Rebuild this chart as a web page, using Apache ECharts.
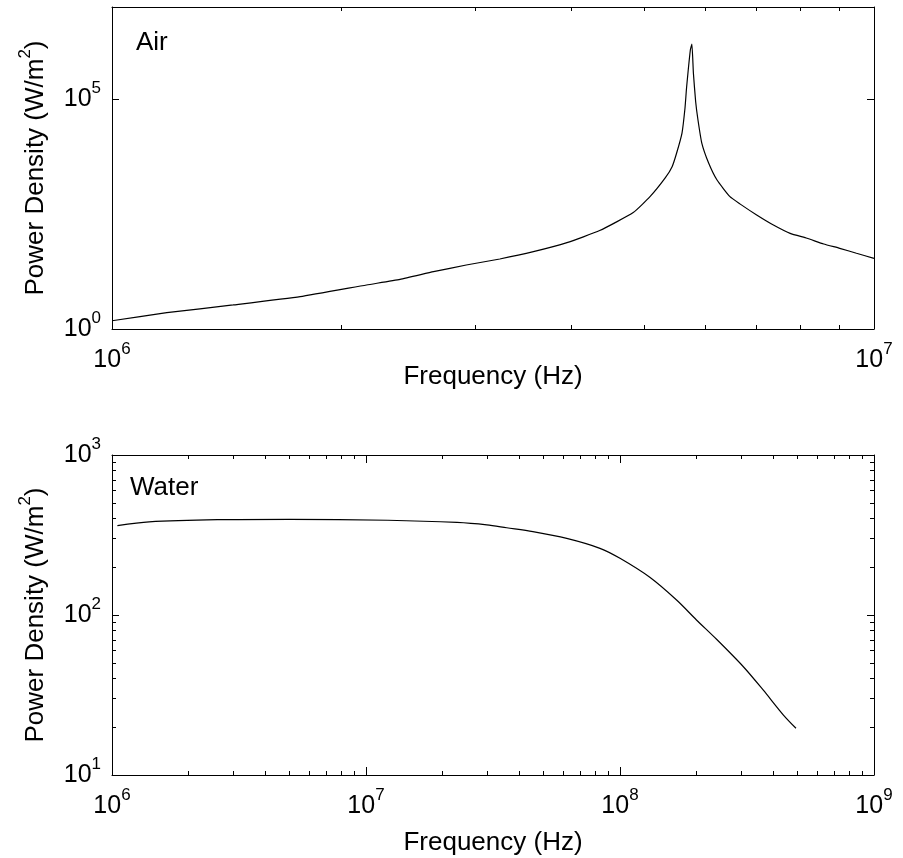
<!DOCTYPE html>
<html>
<head>
<meta charset="utf-8">
<script src="https://cdn.jsdelivr.net/npm/echarts@6/dist/echarts.min.js"></script>
<style>
  html, body { margin: 0; padding: 0; background: #ffffff; }
  #chart { width: 903px; height: 858px; }
</style>
</head>
<body>
<div id="chart"></div>
<script>
// Power density spectrum in air (sharp resonance near 5.8 MHz)
const airFreq = [
  1.000e6, 1.180e6, 1.442e6, 1.766e6, 2.158e6, 2.388e6, 2.642e6, 2.917e6, 3.228e6, 3.573e6,
  3.954e6, 4.365e6, 4.831e6, 5.082e6, 5.321e6, 5.433e6, 5.508e6, 5.598e6, 5.649e6, 5.675e6,
  5.741e6, 5.768e6, 5.794e6, 5.834e6, 5.875e6, 5.943e6, 6.067e6, 6.223e6, 6.471e6, 6.668e6,
  7.015e6, 7.379e6, 7.762e6, 8.166e6, 8.590e6, 9.016e6, 9.484e6, 1.000e7
];
const airPower = [
  1.51, 2.26, 3.33, 5.04, 9.06, 12.0, 17.6, 24.6, 33.3, 47.9,
  75.2, 138, 339, 752, 1920, 3370, 6700, 18200, 63700, 171000,
  1160000, 1570000, 367000, 87300, 34900, 11000, 4060, 1730, 752, 525,
  301, 182, 120, 93.8, 70.5, 56.8, 44.3, 34.4
];

// Power density spectrum in water
const waterFreq = [
  1.05e6, 1.40e6, 2.60e6, 5.00e6, 1.22e7, 2.28e7, 2.99e7, 3.58e7, 4.54e7, 6.17e7,
  8.34e7, 1.00e8, 1.31e8, 1.67e8, 2.00e8, 2.40e8, 3.06e8, 3.66e8, 4.40e8, 4.93e8
];
const waterPower = [
  362, 382, 394, 396, 391, 379, 366, 351, 332, 301,
  261, 226, 172, 124, 93.1, 70.5, 47.5, 34.0, 23.7, 19.6
];

// Tick values
const airXMajor = [1e6, 1e7];
const airXMinor = [2e6, 3e6, 4e6, 5e6, 6e6, 7e6, 8e6, 9e6];
const airYMajor = [1e0, 1e5];
const waterXMajor = [1e6, 1e7, 1e8, 1e9];
const waterXMinor = [
  2e6, 3e6, 4e6, 5e6, 6e6, 7e6, 8e6, 9e6,
  2e7, 3e7, 4e7, 5e7, 6e7, 7e7, 8e7, 9e7,
  2e8, 3e8, 4e8, 5e8, 6e8, 7e8, 8e8, 9e8
];
const waterYMajor = [1e1, 1e2, 1e3];
const waterYMinor = [20, 30, 40, 50, 60, 70, 80, 90, 200, 300, 400, 500, 600, 700, 800, 900];

const xTitle = 'Frequency (Hz)';
const yTitle = 'Power Density (W/m{s|2})';
const panelNames = ['Air', 'Water'];

const FONT = '"Liberation Sans", Arial, Helvetica, sans-serif';
const INK = '#000000';

// "10" with the decade exponent raised as a superscript
const powLabel = v => '{b|10}{s|' + Math.round(Math.log10(v)) + '}';
const supRich = {
  b: { fontSize: 25, lineHeight: 25, color: INK, fontFamily: FONT },
  s: { fontSize: 17, lineHeight: 17, padding: [0, 0, 22, 0], color: INK, fontFamily: FONT }
};

const grids = [
  { left: 112, top: 7, width: 762, height: 322, outerBoundsMode: 'none' },
  { left: 112, top: 455, width: 762, height: 320, outerBoundsMode: 'none' }
];

const xAxes = [];
const yAxes = [];

function logAxis(gridIndex, position, min, max, ticks, len, opts) {
  const ax = {
    type: 'log',
    logBase: 10,
    gridIndex: gridIndex,
    position: position,
    min: min,
    max: max,
    splitLine: { show: false },
    minorTick: { show: false },
    minorSplitLine: { show: false },
    axisLine: { show: true, onZero: false, lineStyle: { color: INK, width: 1 } },
    axisTick: { show: true, inside: true, length: len, customValues: ticks, lineStyle: { color: INK, width: 1 } },
    axisLabel: { show: false },
    axisPointer: { show: false },
    silent: true
  };
  return Object.assign(ax, opts || {});
}

function addPanel(g, xMin, xMax, xMajor, xMinor, yMin, yMax, yMajor, yMinor, xNameGap) {
  const xBase = xAxes.length;
  const yBase = yAxes.length;
  // bottom axis carries the labels and the title
  xAxes.push(logAxis(g, 'bottom', xMin, xMax, xMajor, 8, {
    axisLabel: {
      show: true, customValues: xMajor, formatter: powLabel, margin: 19,
      rich: supRich, color: INK, fontFamily: FONT
    },
    name: xTitle, nameLocation: 'middle', nameGap: xNameGap, nameMoveOverlap: false,
    nameTextStyle: { fontSize: 26, lineHeight: 26, color: INK, fontFamily: FONT }
  }));
  xAxes.push(logAxis(g, 'top', xMin, xMax, xMajor, 8));
  xAxes.push(logAxis(g, 'bottom', xMin, xMax, xMinor, 4, { axisLine: { show: false } }));
  xAxes.push(logAxis(g, 'top', xMin, xMax, xMinor, 4, { axisLine: { show: false } }));

  yAxes.push(logAxis(g, 'left', yMin, yMax, yMajor, 7, {
    axisLabel: {
      show: true, customValues: yMajor, formatter: powLabel, margin: 11,
      rich: supRich, color: INK, fontFamily: FONT
    },
    name: yTitle, nameLocation: 'middle', nameGap: 63, nameMoveOverlap: false,
    nameTextStyle: {
      fontSize: 26, lineHeight: 26, color: INK, fontFamily: FONT,
      rich: { s: { fontSize: 17, lineHeight: 17, padding: [0, 0, 22, 0], color: INK, fontFamily: FONT } }
    }
  }));
  yAxes.push(logAxis(g, 'right', yMin, yMax, yMajor, 7));
  if (yMinor.length) {
    yAxes.push(logAxis(g, 'left', yMin, yMax, yMinor, 4, { axisLine: { show: false } }));
    yAxes.push(logAxis(g, 'right', yMin, yMax, yMinor, 4, { axisLine: { show: false } }));
  }
  return { x: xBase, y: yBase };
}

const airAx = addPanel(0, 1e6, 1e7, airXMajor, airXMinor, 1e0, 1e7, airYMajor, [], 35);
const waterAx = addPanel(1, 1e6, 1e9, waterXMajor, waterXMinor, 1e1, 1e3, waterYMajor, waterYMinor, 55);

const pairs = (xs, ys) => xs.map((x, i) => [x, ys[i]]);

const option = {
  backgroundColor: '#ffffff',
  animation: false,
  textStyle: { fontFamily: FONT, color: INK },
  grid: grids,
  xAxis: xAxes,
  yAxis: yAxes,
  series: [
    {
      name: panelNames[0], type: 'line',
      xAxisIndex: airAx.x, yAxisIndex: airAx.y,
      data: pairs(airFreq, airPower),
      symbol: 'none', showSymbol: false, smooth: 0.15,
      lineStyle: { color: INK, width: 1.2 },
      emphasis: { disabled: true }
    },
    {
      name: panelNames[1], type: 'line',
      xAxisIndex: waterAx.x, yAxisIndex: waterAx.y,
      data: pairs(waterFreq, waterPower),
      symbol: 'none', showSymbol: false, smooth: 0.3,
      lineStyle: { color: INK, width: 1.2 },
      emphasis: { disabled: true }
    }
  ],
  graphic: [
    { type: 'text', x: 136, y: 42.5, silent: true,
      style: { text: panelNames[0], fontSize: 26, fontFamily: FONT, fill: INK, verticalAlign: 'middle', align: 'left' } },
    { type: 'text', x: 130, y: 488, silent: true,
      style: { text: panelNames[1], fontSize: 26, fontFamily: FONT, fill: INK, verticalAlign: 'middle', align: 'left' } }
  ]
};

const chart = echarts.init(document.getElementById('chart'), null, { renderer: 'canvas' });
chart.setOption(option);
</script>
</body>
</html>
